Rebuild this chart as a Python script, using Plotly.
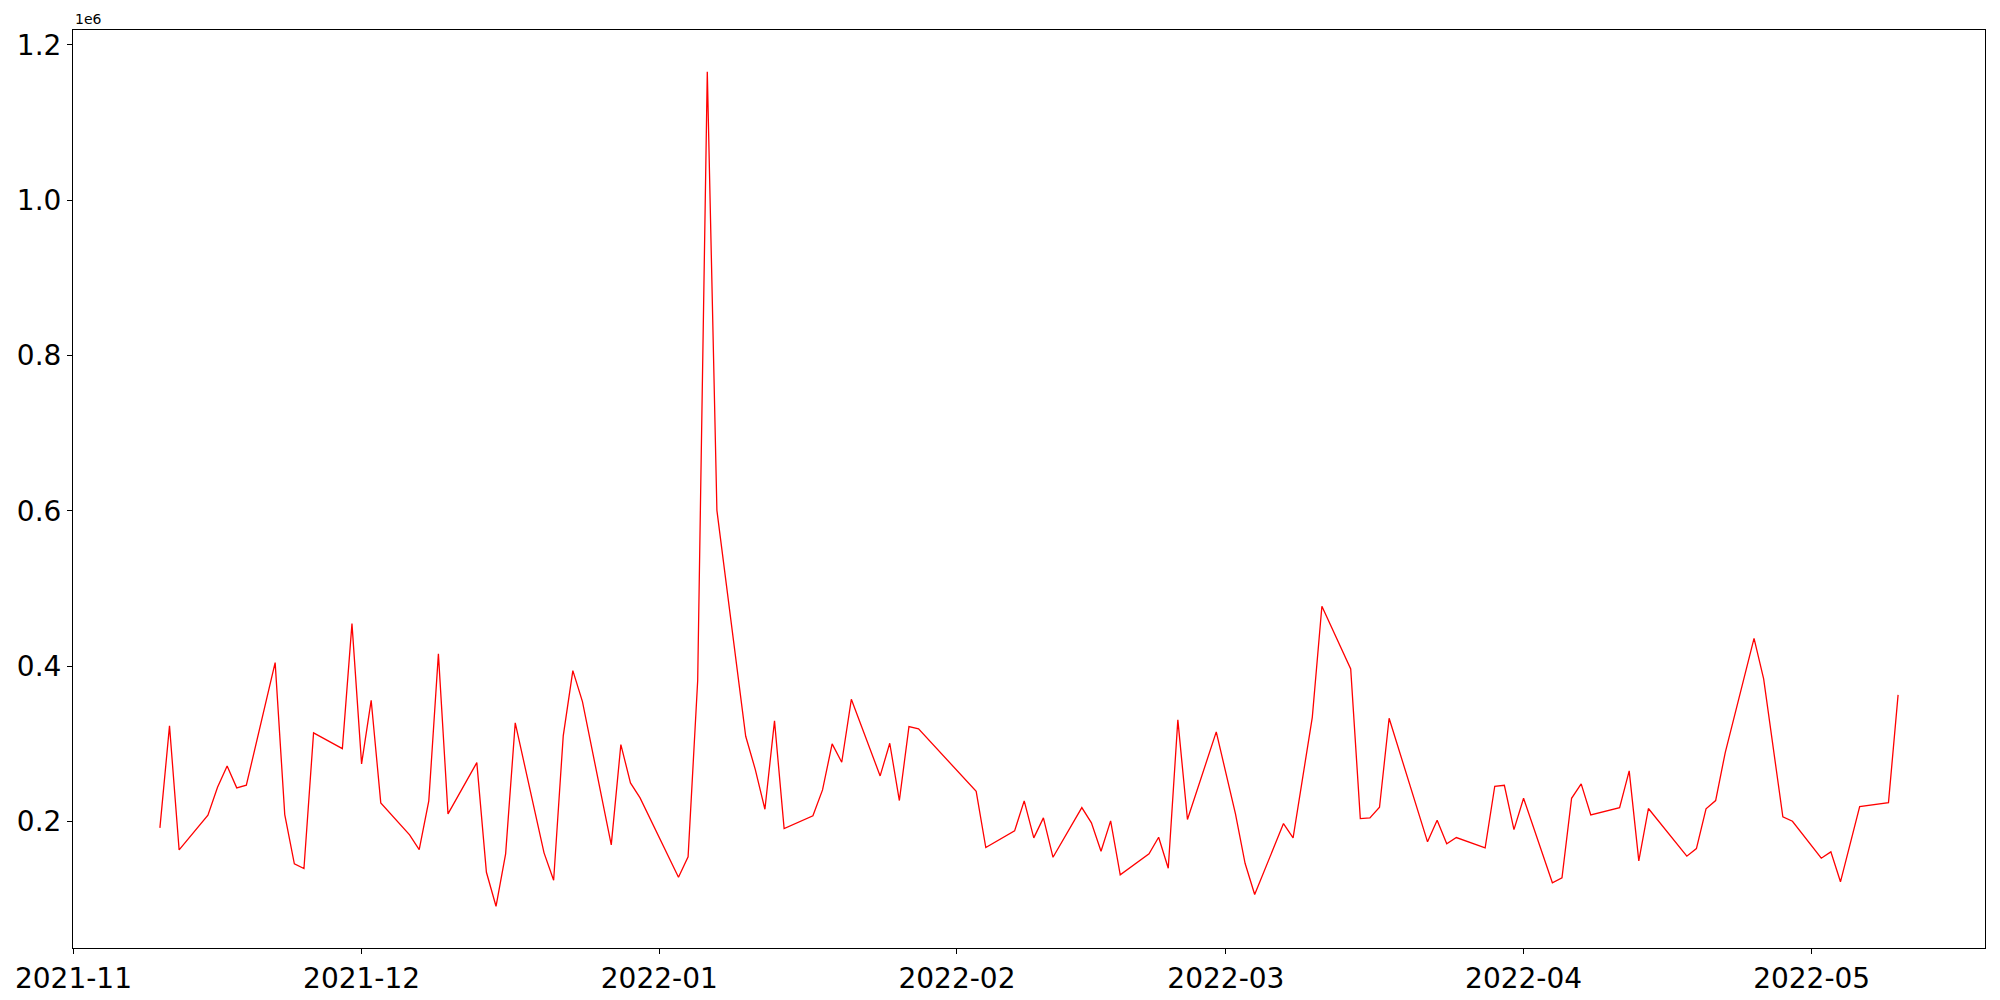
import numpy as np
import pandas as pd
import plotly.graph_objects as go

# trading days (values in units of 1e6)
dates = [
    "2021-11-10", "2021-11-11", "2021-11-12", "2021-11-15", "2021-11-16", "2021-11-17",
    "2021-11-18", "2021-11-19", "2021-11-22", "2021-11-23", "2021-11-24", "2021-11-25",
    "2021-11-26", "2021-11-29", "2021-11-30", "2021-12-01", "2021-12-02", "2021-12-03",
    "2021-12-06", "2021-12-07", "2021-12-08", "2021-12-09", "2021-12-10", "2021-12-13",
    "2021-12-14", "2021-12-15", "2021-12-16", "2021-12-17", "2021-12-20", "2021-12-21",
    "2021-12-22", "2021-12-23", "2021-12-24", "2021-12-27", "2021-12-28", "2021-12-29",
    "2021-12-30", "2022-01-03", "2022-01-04", "2022-01-05", "2022-01-06", "2022-01-07",
    "2022-01-10", "2022-01-11", "2022-01-12", "2022-01-13", "2022-01-14", "2022-01-17",
    "2022-01-18", "2022-01-19", "2022-01-20", "2022-01-21", "2022-01-24", "2022-01-25",
    "2022-01-26", "2022-01-27", "2022-01-28", "2022-02-03", "2022-02-04", "2022-02-07",
    "2022-02-08", "2022-02-09", "2022-02-10", "2022-02-11", "2022-02-14", "2022-02-15",
    "2022-02-16", "2022-02-17", "2022-02-18", "2022-02-21", "2022-02-22", "2022-02-23",
    "2022-02-24", "2022-02-25", "2022-02-28", "2022-03-02", "2022-03-03", "2022-03-04",
    "2022-03-07", "2022-03-08", "2022-03-10", "2022-03-11", "2022-03-14", "2022-03-15",
    "2022-03-16", "2022-03-17", "2022-03-18", "2022-03-22", "2022-03-23", "2022-03-24",
    "2022-03-25", "2022-03-28", "2022-03-29", "2022-03-30", "2022-03-31", "2022-04-01",
    "2022-04-04", "2022-04-05", "2022-04-06", "2022-04-07", "2022-04-08", "2022-04-11",
    "2022-04-12", "2022-04-13", "2022-04-14", "2022-04-18", "2022-04-19", "2022-04-20",
    "2022-04-21", "2022-04-22", "2022-04-25", "2022-04-26", "2022-04-28", "2022-04-29",
    "2022-05-02", "2022-05-03", "2022-05-04", "2022-05-06", "2022-05-09", "2022-05-10",
]

values = [
    0.1915, 0.3229, 0.1632, 0.2077, 0.2438, 0.2713,
    0.2430, 0.2464, 0.4044, 0.2086, 0.1451, 0.1391,
    0.3138, 0.2936, 0.4546, 0.2739, 0.3558, 0.2237,
    0.1825, 0.1636, 0.2263, 0.4156, 0.2095, 0.2756,
    0.1343, 0.0905, 0.1580, 0.3267, 0.1593, 0.1240,
    0.3100, 0.3941, 0.3542, 0.1696, 0.2988, 0.2494,
    0.2301, 0.1279, 0.1542, 0.3812, 1.1655, 0.6005,
    0.3095, 0.2666, 0.2155, 0.3293, 0.1906, 0.2070,
    0.2404, 0.2997, 0.2760, 0.3571, 0.2584, 0.3005,
    0.2267, 0.3220, 0.3190, 0.2386, 0.1661, 0.1876,
    0.2263, 0.1786, 0.2044, 0.1536, 0.2176, 0.1979,
    0.1614, 0.2005, 0.1310, 0.1580, 0.1794, 0.1395,
    0.3306, 0.2022, 0.3151, 0.2095, 0.1459, 0.1056,
    0.1970, 0.1786, 0.3339, 0.4769, 0.3962, 0.2035,
    0.2044, 0.2180, 0.3327, 0.1735, 0.2013, 0.1709,
    0.1790, 0.1657, 0.2451, 0.2464, 0.1893, 0.2296,
    0.1207, 0.1271, 0.2296, 0.2481, 0.2082, 0.2176,
    0.2649, 0.1490, 0.2164, 0.1550, 0.1648, 0.2160,
    0.2267, 0.2885, 0.4357, 0.3834, 0.2057, 0.2000,
    0.1524, 0.1606, 0.1220, 0.2189, 0.2241, 0.3628,
]

y_ticks = [0.2, 0.4, 0.6, 0.8, 1.0, 1.2]

x = pd.to_datetime(dates)
y = np.array(values)

# matplotlib-style 5% margins around the data
span_x = x.max() - x.min()
x_range = [x.min() - 0.05 * span_x, x.max() + 0.05 * span_x]
span_y = y.max() - y.min()
y_range = [y.min() - 0.05 * span_y, y.max() + 0.05 * span_y]

fig = go.Figure()
fig.add_trace(go.Scatter(x=x, y=y, mode="lines", line=dict(color="red", width=1.3)))

axis_style = dict(
    showline=True,
    linecolor="black",
    linewidth=1,
    mirror=True,
    showgrid=False,
    zeroline=False,
    ticks="outside",
    ticklen=5,
    tickcolor="black",
    tickfont=dict(family="DejaVu Sans", size=28, color="black"),
)

# page body adds an 8px offset, so the figure is 8px smaller each way
fig.update_layout(
    width=1992,
    height=992,
    margin=dict(l=65, r=15, t=22, b=52, autoexpand=False),
    plot_bgcolor="white",
    paper_bgcolor="white",
    showlegend=False,
    xaxis=dict(
        type="date",
        range=x_range,
        dtick="M1",
        tick0="2021-11-01",
        tickformat="%Y-%m",
        **axis_style,
    ),
    yaxis=dict(
        range=y_range,
        tickvals=y_ticks,
        tickformat=".1f",
        **axis_style,
    ),
)

fig.add_annotation(
    text="1e6",
    xref="paper",
    yref="paper",
    x=0,
    y=1,
    xanchor="left",
    yanchor="bottom",
    showarrow=False,
    font=dict(family="DejaVu Sans", size=14, color="black"),
    yshift=1,
)

fig.write_html("out.html")
